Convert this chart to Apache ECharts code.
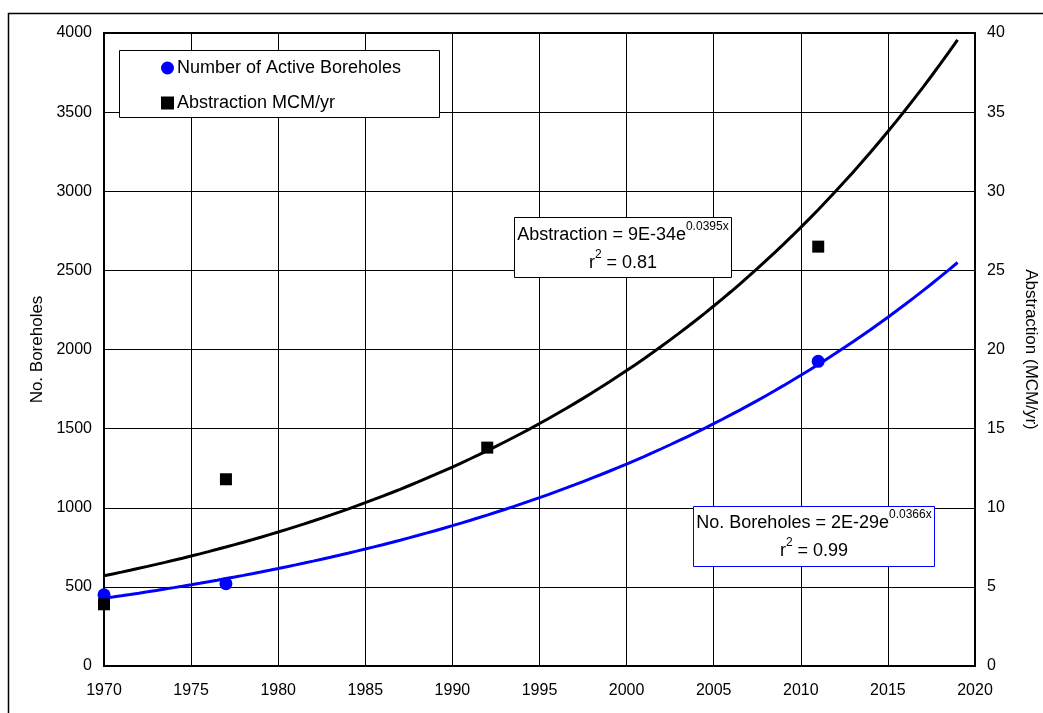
<!DOCTYPE html>
<html>
<head>
<meta charset="utf-8">
<script src="https://cdn.jsdelivr.net/npm/echarts@6/dist/echarts.min.js"></script>
<style>
  html, body { margin: 0; padding: 0; background: #fff; }
  #chart { width: 1043px; height: 713px; }
</style>
</head>
<body>
<div id="chart"></div>
<script>
// Observations
const boreholeYears = [1970, 1977, 2011];
const boreholeCounts = [450, 520, 1925];
const abstractionYears = [1970, 1977, 1992, 2011];
const abstractionMCM = [3.9, 11.8, 13.8, 26.5];

// Trend range (years)
const trendStart = 1970;
const trendEnd = 2019;

// Equation labels
const abstractionEq = { lhs: 'Abstraction = 9E-34e', exp: '0.0395x', r2: '0.81' };
const boreholeEq = { lhs: 'No. Boreholes = 2E-29e', exp: '0.0366x', r2: '0.99' };

// Least-squares exponential fit y = a*e^(b*x) on ln(y)
function expFit(xs, ys) {
  const n = xs.length;
  const ly = ys.map(Math.log);
  const mx = xs.reduce((s, v) => s + v, 0) / n;
  const my = ly.reduce((s, v) => s + v, 0) / n;
  let sxy = 0, sxx = 0;
  for (let i = 0; i < n; i++) {
    sxy += (xs[i] - mx) * (ly[i] - my);
    sxx += (xs[i] - mx) * (xs[i] - mx);
  }
  const b = sxy / sxx;
  return x => Math.exp(my + b * (x - mx));
}
function trendPoints(fn) {
  const pts = [];
  for (let x = trendStart; x <= trendEnd + 1e-9; x += 0.5) pts.push([x, fn(x)]);
  return pts;
}
const boreholeTrend = trendPoints(expFit(boreholeYears, boreholeCounts));
const abstractionTrend = trendPoints(expFit(abstractionYears, abstractionMCM));

const FONT = '"Liberation Sans", Arial, sans-serif';
const plain = v => String(v);
const chart = echarts.init(document.getElementById('chart'));

function eqText(eq) {
  return '{a|' + eq.lhs + '}{s|' + eq.exp + '}\n{a|r}{s|2}{a| = ' + eq.r2 + '}';
}
function eqRich(color) {
  return {
    a: { fontSize: 18, fontFamily: FONT, color: color, lineHeight: 28 },
    s: { fontSize: 12, fontFamily: FONT, color: color, lineHeight: 28, verticalAlign: 'top', padding: [0, 0, 11, 0] }
  };
}

chart.setOption({
  animation: false,
  backgroundColor: '#fff',
  textStyle: { fontFamily: FONT },
  grid: {
    left: 104, top: 33, width: 871, height: 633, outerBoundsMode: 'none',
    show: true, borderColor: '#000', borderWidth: 2, backgroundColor: 'transparent'
  },
  xAxis: {
    type: 'value', min: 1970, max: 2020, interval: 5,
    axisLine: { show: false }, axisTick: { show: false },
    axisLabel: { color: '#000', fontSize: 16, margin: 17, fontFamily: FONT, formatter: plain },
    splitLine: { show: true, lineStyle: { color: '#000', width: 1 } }
  },
  yAxis: [
    {
      type: 'value', min: 0, max: 4000, interval: 500,
      name: 'No. Boreholes', nameLocation: 'middle', nameRotate: 90, nameGap: 53,
      nameTextStyle: { color: '#000', fontSize: 17, fontFamily: FONT },
      axisLine: { show: false }, axisTick: { show: false },
      axisLabel: { color: '#000', fontSize: 16, margin: 12, fontFamily: FONT, formatter: plain },
      splitLine: { show: true, lineStyle: { color: '#000', width: 1 } }
    },
    {
      type: 'value', min: 0, max: 40, interval: 5, position: 'right',
      name: 'Abstraction (MCM/yr)', nameLocation: 'middle', nameRotate: -90, nameGap: 47,
      nameTextStyle: { color: '#000', fontSize: 17, fontFamily: FONT },
      axisLine: { show: false }, axisTick: { show: false },
      axisLabel: { color: '#000', fontSize: 16, margin: 12, fontFamily: FONT, formatter: plain },
      splitLine: { show: false }
    }
  ],
  legend: {
    orient: 'vertical', left: 161, top: 59, padding: 0, itemGap: 17,
    itemWidth: 13, itemHeight: 13, z: 20,
    textStyle: { color: '#000', fontSize: 18, fontFamily: FONT, padding: [0, 0, 0, -2] },
    data: [
      { name: 'Number of Active Boreholes', icon: 'circle' },
      { name: 'Abstraction MCM/yr', icon: 'rect' }
    ]
  },
  graphic: [
    { type: 'rect', z: 100, silent: true,
      shape: { x: 8.5, y: 13.5, width: 1100, height: 800 },
      style: { fill: 'none', stroke: '#000', lineWidth: 1.5 } },
    { type: 'rect', z: 10, silent: true,
      shape: { x: 119.5, y: 50.5, width: 320, height: 67 },
      style: { fill: '#fff', stroke: '#000', lineWidth: 1 } },
    { type: 'rect', z: 10, silent: true,
      shape: { x: 514.5, y: 217.5, width: 217, height: 60 },
      style: { fill: '#fff', stroke: '#000', lineWidth: 1 } },
    { type: 'text', z: 11, silent: true, x: 623, y: 249,
      style: { text: eqText(abstractionEq), rich: eqRich('#000'), align: 'center', verticalAlign: 'middle' } },
    { type: 'rect', z: 10, silent: true,
      shape: { x: 693.5, y: 506.5, width: 241, height: 60 },
      style: { fill: '#fff', stroke: '#0000ff', lineWidth: 1 } },
    { type: 'text', z: 11, silent: true, x: 814, y: 537,
      style: { text: eqText(boreholeEq), rich: eqRich('#0000ff'), align: 'center', verticalAlign: 'middle' } }
  ],
  series: [
    {
      name: 'Boreholes trend', type: 'line', yAxisIndex: 0, data: boreholeTrend,
      showSymbol: false, lineStyle: { color: '#0000ff', width: 3 }, itemStyle: { color: '#0000ff' }, z: 3
    },
    {
      name: 'Abstraction trend', type: 'line', yAxisIndex: 1, data: abstractionTrend,
      showSymbol: false, lineStyle: { color: '#000', width: 3 }, itemStyle: { color: '#000' }, z: 3
    },
    {
      name: 'Number of Active Boreholes', type: 'scatter', yAxisIndex: 0,
      data: boreholeYears.map((y, i) => [y, boreholeCounts[i]]),
      symbol: 'circle', symbolSize: 13, itemStyle: { color: '#0000ff', opacity: 1 }, z: 5
    },
    {
      name: 'Abstraction MCM/yr', type: 'scatter', yAxisIndex: 1,
      data: abstractionYears.map((y, i) => [y, abstractionMCM[i]]),
      symbol: 'rect', symbolSize: 12, itemStyle: { color: '#000', opacity: 1 }, z: 5
    }
  ]
});
</script>
</body>
</html>
